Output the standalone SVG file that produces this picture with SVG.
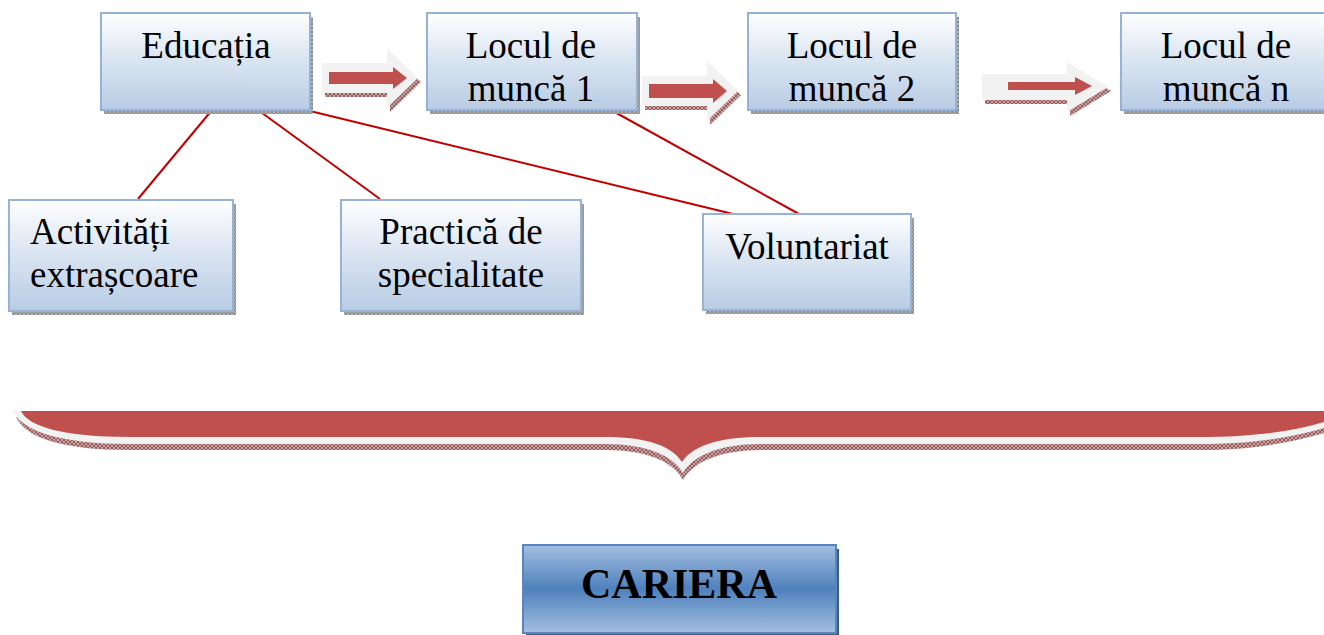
<svg xmlns="http://www.w3.org/2000/svg" width="1324" height="635" viewBox="0 0 1324 635">
<defs>
<linearGradient id="boxg" x1="0" y1="0" x2="0" y2="1">
<stop offset="0" stop-color="#FFFFFF"/>
<stop offset="0.45" stop-color="#DCE6F2"/>
<stop offset="1" stop-color="#B8CCE4"/>
</linearGradient>
<linearGradient id="carg" x1="0" y1="0" x2="0" y2="1">
<stop offset="0" stop-color="#A3BEE0"/>
<stop offset="0.5" stop-color="#4F81BD"/>
<stop offset="1" stop-color="#A3BEE0"/>
</linearGradient>
<pattern id="greyhatch" width="4" height="4" patternUnits="userSpaceOnUse">
<rect width="4" height="4" fill="#B0B0B0"/>
<path d="M0,0 L4,4 M4,0 L0,4" stroke="#808080" stroke-width="0.8"/>
</pattern>
<pattern id="redhatch" width="4" height="4" patternUnits="userSpaceOnUse">
<rect width="4" height="4" fill="#C9A3A3"/>
<path d="M0,0 L4,4 M4,0 L0,4" stroke="#8A4A4A" stroke-width="0.8"/>
</pattern>
<clipPath id="c1"><rect x="427" y="13" width="210" height="89"/></clipPath>
<clipPath id="c2"><rect x="748" y="13" width="208" height="89"/></clipPath>
<clipPath id="c3"><rect x="1121" y="13" width="210" height="89"/></clipPath>
<style>
.box{fill:url(#boxg);stroke:#95B3D7;stroke-width:2}
.shadow{fill:url(#greyhatch)}
.link{stroke:#C00000;stroke-width:2;fill:none}
.arrOut{fill:#F2F2F2}
.arrIn{fill:#C0504D}
.arrSh{fill:url(#redhatch)}
</style>
</defs>
<rect width="1324" height="635" fill="#FFFFFF"/>

<g id="connectors">
<line class="link" x1="212" y1="110" x2="138" y2="199"/>
<line class="link" x1="258" y1="110" x2="380" y2="199"/>
<line class="link" x1="310" y1="111" x2="733" y2="214"/>
<line class="link" x1="611" y1="110" x2="799" y2="214"/>
</g>

<g id="arrows">
<g id="arrow1">
<path class="arrSh" d="M325,67 L390,67 L390,52 L421,82 L390,112 L390,97 L325,97 Z"/>
<path class="arrOut" d="M322,63 L387,63 L387,48 L418,78 L387,108 L387,93 L322,93 Z"/>
<path class="arrIn" d="M329,72 L393,72 L393,67 L407,78 L393,89 L393,84 L329,84 Z"/>
</g>
<g id="arrow2">
<path class="arrSh" d="M645,80 L710,80 L710,65 L741,95 L710,125 L710,110 L645,110 Z"/>
<path class="arrOut" d="M642,76 L707,76 L707,61 L738,91 L707,121 L707,106 L642,106 Z"/>
<path class="arrIn" d="M649,84 L713,84 L713,79 L727,91 L713,103 L713,98 L649,98 Z"/>
</g>
<g id="arrow3">
<path class="arrSh" d="M985,78 L1070,78 L1070,66 L1111,91 L1070,116 L1070,104 L985,104 Z"/>
<path class="arrOut" d="M982,74 L1067,74 L1067,62 L1108,87 L1067,112 L1067,100 L982,100 Z"/>
<path class="arrIn" d="M1008,82 L1075,82 L1075,77 L1092,86 L1075,95 L1075,90 L1008,90 Z"/>
</g>
</g>

<g font-family="'Liberation Serif', 'Times New Roman', serif" font-size="37" fill="#000000">
<g id="educatia">
<rect class="shadow" x="104" y="17" width="209" height="97"/>
<rect class="box" x="101" y="13" width="209" height="97"/>
<text x="206" y="58" text-anchor="middle">Educația</text>
</g>

<g id="loc1">
<rect class="shadow" x="430" y="17" width="210" height="97"/>
<rect class="box" x="427" y="13" width="210" height="97"/>
<g clip-path="url(#c1)">
<text x="531" y="58" text-anchor="middle">Locul de</text>
<text x="531" y="101" text-anchor="middle">muncă 1</text>
</g>
</g>

<g id="loc2">
<rect class="shadow" x="751" y="17" width="208" height="97"/>
<rect class="box" x="748" y="13" width="208" height="97"/>
<g clip-path="url(#c2)">
<text x="852" y="58" text-anchor="middle">Locul de</text>
<text x="852" y="101" text-anchor="middle">muncă 2</text>
</g>
</g>

<g id="locn">
<rect class="shadow" x="1124" y="17" width="210" height="97"/>
<rect class="box" x="1121" y="13" width="210" height="97"/>
<g clip-path="url(#c3)">
<text x="1226" y="58" text-anchor="middle">Locul de</text>
<text x="1226" y="101" text-anchor="middle">muncă n</text>
</g>
</g>

<g id="activitati">
<rect class="shadow" x="12" y="204" width="224" height="111"/>
<rect class="box" x="9" y="200" width="224" height="111"/>
<text x="30" y="244">Activități</text>
<text x="30" y="287">extrașcoare</text>
</g>

<g id="practica">
<rect class="shadow" x="344" y="204" width="240" height="111"/>
<rect class="box" x="341" y="200" width="240" height="111"/>
<text x="461" y="244" text-anchor="middle">Practică de</text>
<text x="461" y="287" text-anchor="middle">specialitate</text>
</g>

<g id="voluntariat">
<rect class="shadow" x="706" y="218" width="208" height="96"/>
<rect class="box" x="703" y="214" width="208" height="96"/>
<text x="807" y="259" text-anchor="middle">Voluntariat</text>
</g>
</g>

<g id="brace">
<path fill="url(#redhatch)" d="M16,417 L1324,417 L1324,433 C1290,443 1250,450 1200,450 L762,450 C720,450 693,462 683,480 C673,462 648,450 606,450 L130,450 C60,450 25,437 16,417 Z"/>
<path fill="#F2F2F2" d="M13,411 L1324,411 L1324,428 C1290,438 1250,444 1200,444 L761,444 C718,444 693,456 683,473 C673,456 648,444 605,444 L130,444 C60,444 22,431 13,411 Z"/>
<path fill="#C0504D" d="M21,411 L1324,411 L1324,422 C1290,432 1250,437 1200,437 L760,437 C716,437 692,447 682,462 C672,447 650,437 605,437 L130,437 C62,437 28,426 21,411 Z"/>
</g>

<g id="cariera">
<rect x="526" y="549" width="313" height="88" fill="#385D8A"/>
<rect x="523" y="545" width="313" height="88" fill="url(#carg)" stroke="#5A86BE" stroke-width="2"/>
<text x="679" y="598" text-anchor="middle" font-family="'Liberation Serif', 'Times New Roman', serif" font-size="42" font-weight="bold" fill="#000000">CARIERA</text>
</g>
</svg>
